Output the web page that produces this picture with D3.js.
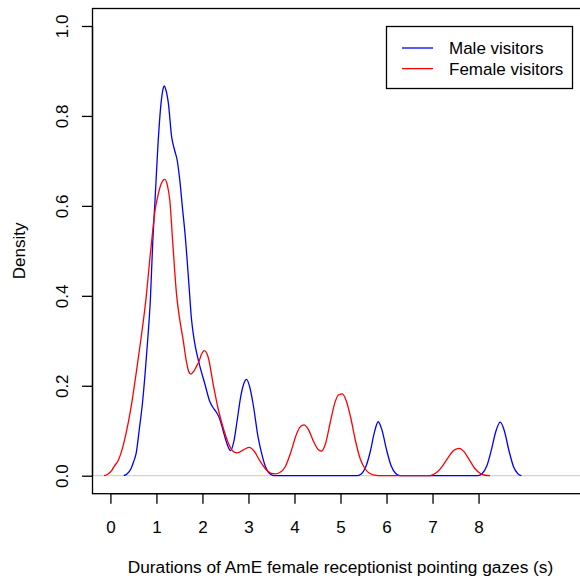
<!DOCTYPE html>
<html>
<head>
<meta charset="utf-8">
<script src="https://cdn.jsdelivr.net/npm/d3@7"></script>
<style>
body{margin:0;background:#fff;}
text{font-family:"Liberation Sans",Arial,sans-serif;font-size:17px;fill:#000;}
</style>
</head>
<body>
<div id="chart"></div>
<script>
// series names and colours
var seriesNames=["Male visitors","Female visitors"];
var seriesColors=["#0000ff","#ff0000"];

// density estimates: [duration (s), density]
var maleDensity=[
[0.29,0],[0.36,0.004],[0.45,0.016],[0.50,0.030],[0.56,0.050],[0.63,0.105],[0.70,0.165],
[0.76,0.235],[0.82,0.315],[0.87,0.395],[0.92,0.52],[0.97,0.613],[1.03,0.73],[1.10,0.828],
[1.14,0.858],[1.17,0.867],[1.20,0.860],[1.26,0.828],[1.33,0.754],[1.40,0.722],[1.45,0.702],
[1.51,0.655],[1.57,0.591],[1.62,0.54],[1.71,0.42],[1.76,0.35],[1.82,0.302],[1.92,0.253],
[2.05,0.205],[2.16,0.165],[2.24,0.150],[2.31,0.140],[2.38,0.125],[2.45,0.100],[2.53,0.072],
[2.61,0.056],[2.68,0.075],[2.75,0.120],[2.83,0.175],[2.90,0.205],[2.96,0.214],[3.02,0.200],
[3.10,0.160],[3.21,0.085],[3.29,0.048],[3.37,0.020],[3.47,0.004],[3.58,0],
[5.35,0],[5.45,0.004],[5.55,0.020],[5.65,0.055],[5.74,0.098],[5.82,0.120],[5.90,0.102],
[6.00,0.058],[6.10,0.022],[6.20,0.005],[6.30,0],
[7.98,0],[8.08,0.005],[8.18,0.022],[8.28,0.058],[8.38,0.100],[8.47,0.119],[8.56,0.100],
[8.66,0.056],[8.76,0.020],[8.86,0.004],[8.93,0]
];
var femaleDensity=[
[-0.14,0],[-0.05,0.004],[0.03,0.012],[0.09,0.022],[0.17,0.034],[0.235,0.052],[0.34,0.094],
[0.45,0.153],[0.56,0.228],[0.67,0.309],[0.78,0.400],[0.85,0.475],[0.92,0.545],[0.97,0.590],
[1.02,0.617],[1.10,0.648],[1.18,0.659],[1.24,0.645],[1.29,0.613],[1.36,0.51],[1.44,0.400],
[1.51,0.345],[1.58,0.302],[1.65,0.255],[1.70,0.232],[1.75,0.226],[1.81,0.232],[1.87,0.243],
[1.92,0.253],[1.98,0.270],[2.04,0.278],[2.12,0.265],[2.24,0.200],[2.35,0.145],[2.47,0.100],
[2.60,0.064],[2.68,0.053],[2.76,0.051],[2.90,0.058],[3.02,0.063],[3.12,0.055],[3.25,0.033],
[3.40,0.012],[3.50,0.005],[3.58,0.004],[3.68,0.007],[3.80,0.020],[3.90,0.046],[4.05,0.094],
[4.12,0.108],[4.21,0.113],[4.30,0.103],[4.42,0.075],[4.52,0.058],[4.59,0.055],[4.67,0.070],
[4.78,0.120],[4.88,0.163],[4.96,0.180],[5.04,0.182],[5.12,0.168],[5.22,0.130],[5.32,0.080],
[5.43,0.037],[5.53,0.016],[5.62,0.006],[5.72,0.002],[5.90,0],
[6.90,0],[7.00,0.002],[7.10,0.008],[7.22,0.022],[7.35,0.042],[7.47,0.057],[7.58,0.061],
[7.68,0.054],[7.80,0.035],[7.92,0.016],[8.04,0.005],[8.14,0.001],[8.25,0]
];

// axes
var xTicks=[0,1,2,3,4,5,6,7,8];
var yTicks=[0,0.2,0.4,0.6,0.8,1.0];
var xTitle="Durations of AmE female receptionist pointing gazes (s)";
var yTitle="Density";

var W=580,H=581;
var pLeft=92,pRight=589,pTop=8,pBottom=493.7;

var svg=d3.select("#chart").append("svg")
	.attr("width",W)
	.attr("height",H)
	.style("display","block");

var x=d3.scaleLinear().domain([-0.4,10.4]).range([pLeft,pRight]);
var y=d3.scaleLinear().domain([-0.04,1.04]).range([pBottom,pTop]);

// zero line
svg.append("line")
	.attr("x1",pLeft).attr("x2",pRight)
	.attr("y1",y(0)).attr("y2",y(0))
	.attr("stroke","#d3d3d3")
	.attr("stroke-width",1.3);

var line=d3.line()
	.x(function(d){return x(d[0]);})
	.y(function(d){return y(d[1]);})
	.curve(d3.curveMonotoneX);

[maleDensity,femaleDensity].forEach(function(s,i){
	svg.append("path")
		.datum(s)
		.attr("d",line)
		.attr("fill","none")
		.attr("stroke",seriesColors[i])
		.attr("stroke-width",1.3);
});

// box
svg.append("rect")
	.attr("x",pLeft+0.5).attr("y",pTop+0.5)
	.attr("width",pRight-pLeft).attr("height",pBottom-pTop-0.5)
	.attr("fill","none")
	.attr("stroke","#000")
	.attr("stroke-width",1.3);

var xAxis=svg.append("g")
	.attr("transform","translate(0,"+pBottom+")")
	.call(d3.axisBottom(x).tickValues(xTicks).tickSize(10).tickFormat(d3.format("d")));
var yAxis=svg.append("g")
	.attr("transform","translate("+pLeft+",0)")
	.call(d3.axisLeft(y).tickValues(yTicks).tickSize(10).tickFormat(d3.format(".1f")));

[xAxis,yAxis].forEach(function(a){
	a.select(".domain").remove();
	a.selectAll(".tick line").attr("stroke","#000").attr("stroke-width",1.3);
	a.selectAll("text").attr("font-family",null).attr("font-size",null);
});
xAxis.append("line")
	.attr("x1",x(0)).attr("x2",x(8)).attr("y1",0).attr("y2",0)
	.attr("stroke","#000").attr("stroke-width",1.3);
yAxis.append("line")
	.attr("x1",0.5).attr("x2",0.5).attr("y1",y(0)).attr("y2",y(1))
	.attr("stroke","#000").attr("stroke-width",1.3);

// rotate y tick labels like R's default las=0
yAxis.selectAll(".tick text")
	.attr("x",null).attr("dy",null)
	.attr("text-anchor","middle")
	.attr("transform","translate(-24,0) rotate(-90)");

xAxis.selectAll(".tick text").attr("dy",null).attr("y",39);

svg.append("text")
	.attr("x",(pLeft+pRight)/2)
	.attr("y",573)
	.attr("text-anchor","middle")
	.style("font-size","17.3px")
	.text(xTitle);
svg.append("text")
	.attr("transform","translate(25,"+((pTop+pBottom)/2)+") rotate(-90)")
	.attr("text-anchor","middle")
	.text(yTitle);

// legend
var lg=svg.append("g");
lg.append("rect")
	.attr("x",386.5).attr("y",26.5)
	.attr("width",186).attr("height",62)
	.attr("fill","#fff")
	.attr("stroke","#000")
	.attr("stroke-width",1.3);
seriesNames.forEach(function(n,i){
	var ly=48+i*20.6;
	lg.append("line")
		.attr("x1",402).attr("x2",433)
		.attr("y1",ly).attr("y2",ly)
		.attr("stroke",seriesColors[i])
		.attr("stroke-width",1.3);
	lg.append("text")
		.attr("x",449).attr("y",ly+6)
		.text(n);
});
</script>
</body>
</html>
